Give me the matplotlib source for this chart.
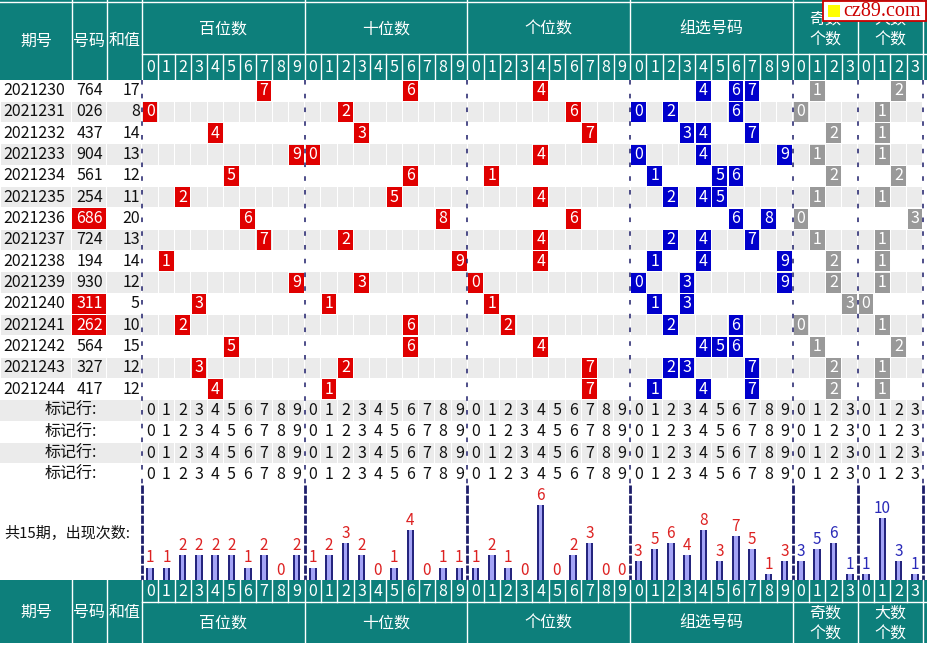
import matplotlib
matplotlib.use("Agg")
import matplotlib.pyplot as plt
from matplotlib.patches import Rectangle

plt.rcParams['font.family'] = ['Noto Sans CJK SC', 'DejaVu Sans']

# ---- data ----
periods = ["2021230", "2021231", "2021232", "2021233", "2021234", "2021235", "2021236",
           "2021237", "2021238", "2021239", "2021240", "2021241", "2021242", "2021243", "2021244"]
numbers = ["764", "026", "437", "904", "561", "254", "686", "724",
           "194", "930", "311", "262", "564", "327", "417"]
sums = [17, 8, 14, 13, 12, 11, 20, 13, 14, 12, 5, 10, 15, 12, 12]
odd_counts = [1, 0, 2, 1, 2, 1, 0, 1, 2, 2, 3, 0, 1, 2, 2]
big_counts = [2, 1, 1, 1, 2, 1, 3, 1, 1, 1, 0, 1, 2, 1, 1]

hundreds_freq = [1, 1, 2, 2, 2, 2, 1, 2, 0, 2]
tens_freq = [1, 2, 3, 2, 0, 1, 4, 0, 1, 1]
units_freq = [1, 2, 1, 0, 6, 0, 2, 3, 0, 0]
group_freq = [3, 5, 6, 4, 8, 3, 7, 5, 1, 3]
odd_freq = [3, 5, 6, 1]
big_freq = [1, 10, 3, 1]

group_titles = ["百位数", "十位数", "个位数", "组选号码", "奇数\n个数", "大数\n个数"]
group_sizes = [10, 10, 10, 10, 4, 4]
left_titles = ["期号", "号码", "和值"]
mark_label = "标记行:"
summary_label = "共15期，出现次数:"
n_mark_rows = 4

# ---- layout (pixels) ----
W, H = 927, 646
TEAL = "#0d7f7b"
GRAY = "#ebebeb"
RED = "#e00000"
BLUE = "#0000cc"
MGRAY = "#999999"
SEP = "#1e1e6a"

left_edges = [0, 72, 107, 142]
X0, X1 = 142, 923
ncols = sum(group_sizes)
CW = (X1 - X0) / ncols
group_starts = [sum(group_sizes[:g]) for g in range(len(group_sizes))]
HDR_MID, HDR_BOT = 54, 80
RH = 21.33
BAR_TOP = HDR_BOT + (len(periods) + n_mark_rows) * RH
BASE = 580
FOOT_MID, FOOT_BOT = 602, 643
FS = 11.5

fig = plt.figure(figsize=(W / 100, H / 100), dpi=100)
ax = fig.add_axes([0, 0, 1, 1])
ax.set_xlim(0, W)
ax.set_ylim(H, 0)
ax.axis("off")


def colx(i):
    return X0 + i * CW


def rect(x, y, w, h, c, z=1):
    ax.add_patch(Rectangle((x, y), w, h, facecolor=c, edgecolor="none", lw=0, zorder=z))


def header(top, mid, bot, digits_on_top):
    rect(0, top, W, bot - top, TEAL)
    # left titles span full header
    for k, t in enumerate(left_titles):
        ax.text((left_edges[k] + left_edges[k + 1]) / 2, (top + bot) / 2 + 1, t, color="white",
                fontsize=FS, ha="center", va="center", zorder=5)
    for xe in left_edges[1:]:
        ax.plot([xe, xe], [top, bot], color="white", lw=1, zorder=4)
    if digits_on_top:
        dtop, dbot, gtop, gbot = mid, bot, top + 3, mid
    else:
        dtop, dbot, gtop, gbot = top, mid, mid, bot
    ax.plot([X0, W], [mid, mid], color="white", lw=1, zorder=4)
    for g, (gs, n) in enumerate(zip(group_starts, group_sizes)):
        xa, xb = colx(gs), colx(gs + n)
        ax.text((xa + xb) / 2, (gtop + gbot) / 2 + 1, group_titles[g], color="white",
                fontsize=FS, ha="center", va="center", linespacing=1.3, zorder=5)
        ax.plot([xb, xb], [top, bot], color="white", lw=1, zorder=4)
        for d in range(n):
            ax.text(colx(gs + d) + CW / 2, (dtop + dbot) / 2, str(d), color="white",
                    fontsize=FS, ha="center", va="center", zorder=5)
            if d:
                ax.plot([colx(gs + d)] * 2, [dtop, dbot], color="white", lw=1, zorder=4)


# top header
header(0, HDR_MID, HDR_BOT, True)
ax.plot([0, W], [2, 2], color="white", lw=1, zorder=4)

# ---- data rows ----
for i, (p, num, s) in enumerate(zip(periods, numbers, sums)):
    y = HDR_BOT + i * RH
    yc = y + RH / 2
    if i % 2 == 1:
        for k in range(3):
            rect(left_edges[k] + 0.5, y + 0.5, left_edges[k + 1] - left_edges[k] - 1, RH - 1, GRAY)
        for c in range(ncols):
            rect(colx(c) + 0.5, y + 0.5, CW - 1, RH - 1, GRAY)
    ax.text(3, yc, p, fontsize=FS, ha="left", va="center", color="#111111", zorder=5)
    repeat = len(set(num)) < 3
    if repeat:
        rect(left_edges[1] + 0.5, y + 0.5, left_edges[2] - left_edges[1] - 1, RH - 1, RED, 2)
    ax.text((left_edges[1] + left_edges[2]) / 2, yc, num, fontsize=FS, ha="center", va="center",
            color="white" if repeat else "#111111", zorder=5)
    ax.text(left_edges[3] - 2, yc, str(s), fontsize=FS, ha="right", va="center",
            color="#111111", zorder=5)

    cells = []
    for pos in range(3):
        cells.append((group_starts[pos] + int(num[pos]), num[pos], RED))
    for d in sorted(set(num)):
        cells.append((group_starts[3] + int(d), d, BLUE))
    cells.append((group_starts[4] + odd_counts[i], str(odd_counts[i]), MGRAY))
    cells.append((group_starts[5] + big_counts[i], str(big_counts[i]), MGRAY))
    for c, label, col in cells:
        rect(colx(c) + 0.8, y + 0.6, CW - 1.6, RH - 1.2, col, 2)
        ax.text(colx(c) + CW / 2, yc, label, fontsize=FS, ha="center", va="center",
                color="white", zorder=5)

# ---- marker rows ----
for m in range(n_mark_rows):
    i = len(periods) + m
    y = HDR_BOT + i * RH
    yc = y + RH / 2
    if i % 2 == 1:
        rect(0, y + 0.5, X0 - 0.5, RH - 1, GRAY)
        for c in range(ncols):
            rect(colx(c) + 0.5, y + 0.5, CW - 1, RH - 1, GRAY)
    ax.text(X0 / 2, yc, mark_label, fontsize=FS, ha="center", va="center", color="#111111", zorder=5)
    for gs, n in zip(group_starts, group_sizes):
        for d in range(n):
            ax.text(colx(gs + d) + CW / 2, yc, str(d), fontsize=FS, ha="center", va="center",
                    color="#111111", zorder=5)

# ---- frequency bars ----
ax.text(4, (BAR_TOP + BASE) / 2, summary_label, fontsize=10.8, ha="left", va="center",
        color="#111111", zorder=5)
freqs = [hundreds_freq, tens_freq, units_freq, group_freq, odd_freq, big_freq]
unit_px = [12.5, 12.5, 12.5, 6.25, 6.2, 6.2]
label_col = ["#dd2222", "#dd2222", "#dd2222", "#dd2222", "#2a2ab8", "#2a2ab8"]
for g, vals in enumerate(freqs):
    xs = [colx(group_starts[g] + d) + CW / 2 for d in range(len(vals))]
    hs = [-v * unit_px[g] for v in vals]
    ax.bar(xs, hs, bottom=BASE, width=7.5, color="#25257e", zorder=3)
    ax.bar(xs, hs, bottom=BASE, width=3.5, color="#a4a4f6", zorder=3.5)
    for x, h, v in zip(xs, hs, vals):
        ax.text(x, BASE + h - 1, str(v), fontsize=11, ha="center", va="bottom",
                color=label_col[g], zorder=5)

# ---- group separators ----
sep_x = [colx(gs) for gs in group_starts] + [colx(ncols)]
for xs_ in sep_x:
    ax.plot([xs_, xs_], [HDR_BOT, BAR_TOP], color=SEP, lw=1.1,
            linestyle=(0, (3, 6)), zorder=4)
    ax.plot([xs_, xs_], [BAR_TOP, BASE], color=SEP, lw=2.0,
            linestyle=(0, (3, 0.6)), zorder=4)

# bottom header
header(BASE, FOOT_MID, FOOT_BOT, False)

# ---- watermark (covers part of the header, as in the source) ----
ax.add_patch(Rectangle((823, 0.8), 103, 20, facecolor="white", edgecolor="#cc0000", lw=1.3, zorder=8))
rect(828, 5, 12, 12, "#ffff00", 9)
ax.text(843, 11.5, "cz89.com", fontsize=14.5, family="Liberation Serif", color="#cc0000",
        ha="left", va="center", zorder=9)

fig.savefig("out.png", dpi=100)
